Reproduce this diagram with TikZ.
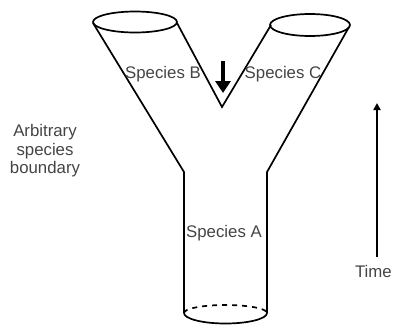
\documentclass[tikz,border=0pt]{standalone}
\usepackage{fontspec}
\setmainfont{Liberation Sans}
\usetikzlibrary{arrows.meta}
\definecolor{txt}{HTML}{444444}
\begin{document}
\begin{tikzpicture}[x=1pt,y=-1pt,
  outline/.style={line width=1.7pt,line join=miter},
  lbl/.style={text=txt,font=\fontsize{16.8}{18.5}\selectfont,inner sep=0pt},
  bigarrow/.style={line width=3.2pt,-{Triangle[width=15pt,length=12pt]}},
  timearrow/.style={line width=1.8pt,-{Triangle[width=7pt,length=7pt]}}]
\useasboundingbox (0,0) rectangle (393,327);
% key points
\coordinate (lt1) at (93,23);
\coordinate (lt2) at (177,23);
\coordinate (rt1) at (271,25);
\coordinate (rt2) at (349,27);
\coordinate (v) at (222,107);
\coordinate (lb) at (184,172);
\coordinate (rb) at (267,172);
\coordinate (lbot) at (184,313);
\coordinate (rbot) at (267,313);
% top ellipses
\draw[outline] (135,22) ellipse [x radius=42, y radius=10.5];
\draw[outline] (310,25) ellipse [x radius=40, y radius=11];
% Y outline
\draw[outline] (lt1) -- (lb) -- (lbot);
\draw[outline] (rt2) -- (rb) -- (rbot);
\draw[outline] (lt2) -- (v) -- (rt1);
% bottom ellipse
\draw[outline] (lbot) arc [start angle=180, end angle=0, x radius=41.5, y radius=10.5];
\draw[outline,dash pattern=on 5pt off 5pt] (lbot) arc [start angle=180, end angle=360, x radius=41.5, y radius=8];
% down arrow
\coordinate (da1) at (223,61);
\coordinate (da2) at (223,93);
\draw[bigarrow] (da1) -- (da2);
% time arrow
\coordinate (ta1) at (377,257);
\coordinate (ta2) at (377,103);
\draw[timearrow] (ta1) -- (ta2);
% labels
\node[lbl] (sb) at (163,74) {Species B};
\node[lbl] (sc) at (283,74) {Species C};
\node[lbl] (sa) at (224,233) {Species A};
\node[lbl,align=center] (ab) at (45,151) {Arbitrary\\species\\boundary};
\node[lbl,anchor=east] (time) at (392,271) {Time};
\end{tikzpicture}
\end{document}
